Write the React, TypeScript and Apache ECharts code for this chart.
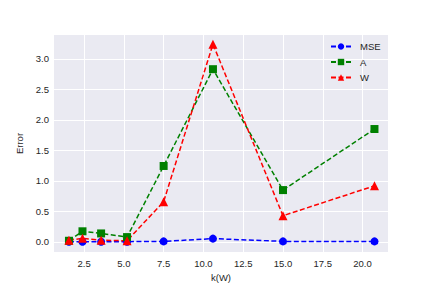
import React, { useEffect, useRef } from "react";
import * as echarts from "echarts";

const kValues = [1.55, 2.4, 3.57, 5.2, 7.5, 10.6, 15.0, 20.75];
const mseValues = [0.005, 0.005, 0.005, 0.005, 0.01, 0.055, 0.01, 0.01];
const aValues = [0.02, 0.175, 0.14, 0.08, 1.245, 2.83, 0.85, 1.85];
const wValues = [0.03, 0.06, 0.03, 0.02, 0.66, 3.24, 0.43, 0.92];
const xTicks = [2.5, 5, 7.5, 10, 12.5, 15, 17.5, 20];
const yTicks = [0, 0.5, 1, 1.5, 2, 2.5, 3];

const font = "Liberation Sans";
const textColor = "#262626";

export default function App() {
  const ref = useRef<HTMLDivElement>(null);
  useEffect(() => {
    if (!ref.current) return;
    const chart = echarts.init(ref.current, null, { renderer: "svg" });
    const mk = (name: string, vals: number[], color: string, symbol: string, size: number) => ({
      name,
      type: "line",
      z: 3,
      data: kValues.map((k, i) => [k, vals[i]]),
      symbol,
      symbolSize: size,
      showAllSymbol: true,
      lineStyle: { color, width: 1.5, type: [5, 2.5] },
      itemStyle: { color },
      emphasis: { disabled: true },
    });
    chart.setOption({
      animation: false,
      backgroundColor: "#ffffff",
      textStyle: { fontFamily: font },
      grid: { left: 54, right: 44, top: 35, bottom: 36, containLabel: false, show: true, backgroundColor: "#EAEAF2", borderWidth: 0 },
      legend: {
        orient: "vertical",
        left: 325,
        top: 36.5,
        z: 4,
        itemWidth: 20,
        itemHeight: 8,
        itemGap: 5.5,
        textStyle: { fontSize: 9.5, color: textColor, fontFamily: font, padding: [0, 0, 0, 4] },
        data: ["MSE", "A", "W"],
      },
      xAxis: {
        type: "value",
        min: 0.61,
        max: 21.6,
        name: "k(W)",
        nameLocation: "middle",
        nameGap: 16,
        nameTextStyle: { fontSize: 9.5, color: textColor, fontFamily: font },
        axisLine: { show: false },
        axisTick: { show: false, customValues: xTicks },
        axisLabel: {
          customValues: xTicks,
          fontSize: 9.5,
          color: textColor,
          margin: 6,
          formatter: (v: number) => v.toFixed(1),
        },
        splitLine: { show: false },
      },
      yAxis: {
        type: "value",
        min: -0.164,
        max: 3.39,
        name: "Error",
        nameLocation: "middle",
        nameGap: 23,
        nameTextStyle: { fontSize: 9.5, color: textColor, fontFamily: font },
        axisLine: { show: false },
        axisTick: { show: false, customValues: yTicks },
        axisLabel: {
          customValues: yTicks,
          fontSize: 9.5,
          color: textColor,
          margin: 5,
          formatter: (v: number) => v.toFixed(1),
        },
        splitLine: { show: false },
      },
      series: [
        {
          name: "grid",
          type: "line",
          z: 1,
          data: [],
          silent: true,
          markLine: {
            z: 1,
            silent: true,
            symbol: "none",
            label: { show: false },
            lineStyle: { color: "#ffffff", width: 1, type: "solid" },
            emphasis: { disabled: true },
            data: [
              ...xTicks.map((v) => ({ xAxis: v })),
              ...yTicks.map((v) => ({ yAxis: v })),
            ],
          },
        },
        mk("MSE", mseValues, "#0000FF", "circle", 8),
        mk("A", aValues, "#008000", "rect", 8),
        mk("W", wValues, "#FF0000", "triangle", 9),
      ],
    });
    return () => chart.dispose();
  }, []);
  return <div ref={ref} style={{ width: 432, height: 288, position: "absolute", left: 0, top: 0 }} />;
}
